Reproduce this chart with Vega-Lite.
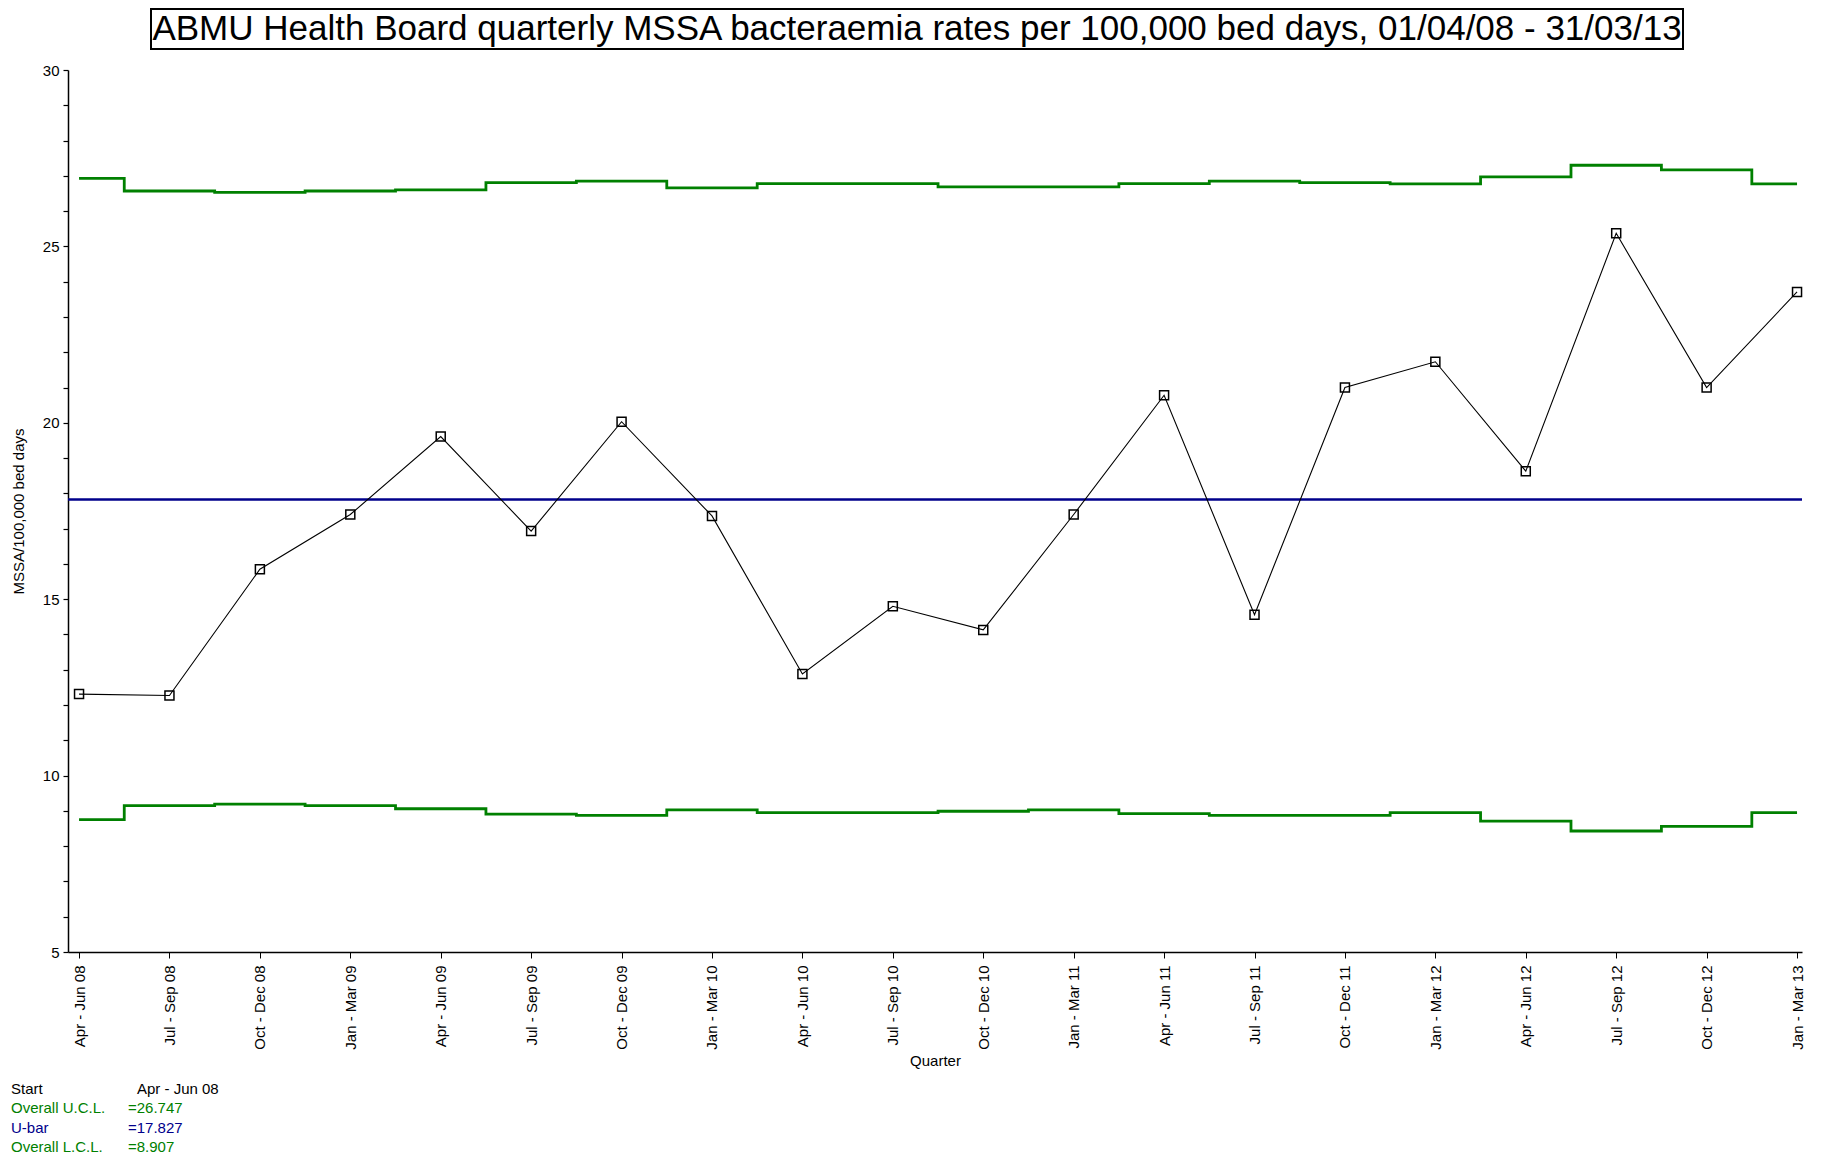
{
  "$schema": "https://vega.github.io/schema/vega-lite/v6.json",
  "background": "white",
  "padding": {"left": 11, "top": 8, "right": 10, "bottom": 5},
  "config": {
    "font": "Liberation Sans",
    "view": {"stroke": null},
    "axis": {"domainColor": "black", "tickColor": "black", "labelColor": "black", "titleColor": "black", "grid": false, "labelFont": "Liberation Sans", "titleFont": "Liberation Sans", "titleFontWeight": "normal", "labelOverlap": false},
    "axisY": {"labelOverlap": false},
    "text": {"font": "Liberation Sans"}
  },
  "datasets": {
    "q": [
      {"quarter": "Apr - Jun 08", "rate": 12.31, "ucl": 26.93, "lcl": 8.75},
      {"quarter": "Jul - Sep 08", "rate": 12.27, "ucl": 26.57, "lcl": 9.15},
      {"quarter": "Oct - Dec 08", "rate": 15.85, "ucl": 26.53, "lcl": 9.19},
      {"quarter": "Jan - Mar 09", "rate": 17.40, "ucl": 26.57, "lcl": 9.15},
      {"quarter": "Apr - Jun 09", "rate": 19.61, "ucl": 26.60, "lcl": 9.06},
      {"quarter": "Jul - Sep 09", "rate": 16.93, "ucl": 26.81, "lcl": 8.91},
      {"quarter": "Oct - Dec 09", "rate": 20.03, "ucl": 26.85, "lcl": 8.87},
      {"quarter": "Jan - Mar 10", "rate": 17.36, "ucl": 26.66, "lcl": 9.03},
      {"quarter": "Apr - Jun 10", "rate": 12.88, "ucl": 26.78, "lcl": 8.95},
      {"quarter": "Jul - Sep 10", "rate": 14.80, "ucl": 26.78, "lcl": 8.95},
      {"quarter": "Oct - Dec 10", "rate": 14.13, "ucl": 26.69, "lcl": 8.99},
      {"quarter": "Jan - Mar 11", "rate": 17.40, "ucl": 26.69, "lcl": 9.03},
      {"quarter": "Apr - Jun 11", "rate": 20.78, "ucl": 26.78, "lcl": 8.92},
      {"quarter": "Jul - Sep 11", "rate": 14.56, "ucl": 26.85, "lcl": 8.87},
      {"quarter": "Oct - Dec 11", "rate": 21.00, "ucl": 26.81, "lcl": 8.87},
      {"quarter": "Jan - Mar 12", "rate": 21.73, "ucl": 26.77, "lcl": 8.95},
      {"quarter": "Apr - Jun 12", "rate": 18.63, "ucl": 26.97, "lcl": 8.71},
      {"quarter": "Jul - Sep 12", "rate": 25.37, "ucl": 27.30, "lcl": 8.43},
      {"quarter": "Oct - Dec 12", "rate": 21.00, "ucl": 27.17, "lcl": 8.56},
      {"quarter": "Jan - Mar 13", "rate": 23.71, "ucl": 26.77, "lcl": 8.95}
    ]
  },
  "spacing": 13,
  "vconcat": [
    {
      "spacing": 0,
      "hconcat": [
        {
          "width": 82,
          "height": 40,
          "data": {"values": [{"t": ""}]},
          "mark": {"type": "text"},
          "encoding": {"text": {"field": "t"}}
        },
        {
          "width": 1532,
          "height": 40,
          "view": {"stroke": "black", "strokeWidth": 2},
          "data": {"values": [{"title": "ABMU Health Board quarterly MSSA bacteraemia rates per 100,000 bed days, 01/04/08 - 31/03/13"}]},
          "mark": {"type": "text", "fontSize": 35, "baseline": "middle", "align": "center", "color": "black"},
          "encoding": {"text": {"field": "title"}}
        }
      ]
    },
    {
      "width": 1734,
      "height": 882,
      "layer": [
        {
          "data": {"name": "q"},
          "mark": {"type": "line", "interpolate": "step", "color": "#008000", "strokeWidth": 2.8},
          "encoding": {
            "x": {"field": "quarter", "type": "ordinal", "sort": null, "scale": {"type": "point", "padding": 0.0885, "align": 0.69}, "axis": {"title": "Quarter", "titleFontSize": 15, "titlePadding": 4, "labelAngle": 270, "labelFontSize": 15, "labelPadding": 7, "tickSize": 6, "domainWidth": 1.5, "labelOverlap": false, "labelBound": false}},
            "y": {"field": "ucl", "type": "quantitative", "scale": {"domain": [5, 30], "nice": false, "zero": false}, "axis": {"title": "MSSA/100,000 bed days", "titleFontSize": 15, "titlePadding": 16, "values": [5,6,7,8,9,10,11,12,13,14,15,16,17,18,19,20,21,22,23,24,25,26,27,28,29,30], "labelExpr": "datum.value % 5 === 0 ? datum.label : ''", "labelOverlap": false, "labelBound": false, "labelFontSize": 15, "labelPadding": 4, "tickSize": 5, "tickWidth": 1.2, "domainWidth": 1.5}}
          }
        },
        {
          "data": {"name": "q"},
          "mark": {"type": "line", "interpolate": "step", "color": "#008000", "strokeWidth": 2.8},
          "encoding": {
            "x": {"field": "quarter", "type": "ordinal", "sort": null},
            "y": {"field": "lcl", "type": "quantitative", "axis": {"title": "MSSA/100,000 bed days", "titleFontSize": 15, "titlePadding": 16, "values": [5,6,7,8,9,10,11,12,13,14,15,16,17,18,19,20,21,22,23,24,25,26,27,28,29,30], "labelExpr": "datum.value % 5 === 0 ? datum.label : ''", "labelOverlap": false, "labelBound": false, "labelFontSize": 15, "labelPadding": 4, "tickSize": 5, "tickWidth": 1.2, "domainWidth": 1.5}}
          }
        },
        {
          "data": {"values": [{"ubar": 17.827}]},
          "mark": {"type": "rule", "color": "#00008B", "strokeWidth": 2.6},
          "encoding": {
            "y": {"field": "ubar", "type": "quantitative", "axis": {"title": "MSSA/100,000 bed days", "titleFontSize": 15, "titlePadding": 16, "values": [5,6,7,8,9,10,11,12,13,14,15,16,17,18,19,20,21,22,23,24,25,26,27,28,29,30], "labelExpr": "datum.value % 5 === 0 ? datum.label : ''", "labelOverlap": false, "labelBound": false, "labelFontSize": 15, "labelPadding": 4, "tickSize": 5, "tickWidth": 1.2, "domainWidth": 1.5}}
          }
        },
        {
          "data": {"name": "q"},
          "mark": {"type": "line", "color": "black", "strokeWidth": 1.1},
          "encoding": {
            "x": {"field": "quarter", "type": "ordinal", "sort": null},
            "y": {"field": "rate", "type": "quantitative", "axis": {"title": "MSSA/100,000 bed days", "titleFontSize": 15, "titlePadding": 16, "values": [5,6,7,8,9,10,11,12,13,14,15,16,17,18,19,20,21,22,23,24,25,26,27,28,29,30], "labelExpr": "datum.value % 5 === 0 ? datum.label : ''", "labelOverlap": false, "labelBound": false, "labelFontSize": 15, "labelPadding": 4, "tickSize": 5, "tickWidth": 1.2, "domainWidth": 1.5}}
          }
        },
        {
          "data": {"name": "q"},
          "mark": {"type": "point", "shape": "square", "filled": false, "size": 81, "stroke": "black", "strokeWidth": 1.5, "opacity": 1},
          "encoding": {
            "x": {"field": "quarter", "type": "ordinal", "sort": null},
            "y": {"field": "rate", "type": "quantitative", "axis": {"title": "MSSA/100,000 bed days", "titleFontSize": 15, "titlePadding": 16, "values": [5,6,7,8,9,10,11,12,13,14,15,16,17,18,19,20,21,22,23,24,25,26,27,28,29,30], "labelExpr": "datum.value % 5 === 0 ? datum.label : ''", "labelOverlap": false, "labelBound": false, "labelFontSize": 15, "labelPadding": 4, "tickSize": 5, "tickWidth": 1.2, "domainWidth": 1.5}}
          }
        }
      ]
    },
    {
      "width": 117,
      "height": 64,
      "data": {"values": [
        {"row": "Start", "col": "name", "text": "Start"},
        {"row": "Start", "col": "value", "text": "Apr - Jun 08"},
        {"row": "UCL", "col": "name", "text": "Overall U.C.L."},
        {"row": "UCL", "col": "value", "text": "=26.747"},
        {"row": "Ubar", "col": "name", "text": "U-bar"},
        {"row": "Ubar", "col": "value", "text": "=17.827"},
        {"row": "LCL", "col": "name", "text": "Overall L.C.L."},
        {"row": "LCL", "col": "value", "text": "=8.907"}
      ]},
      "encoding": {
        "x": {"field": "col", "type": "nominal", "scale": {"type": "point", "padding": 0, "domain": ["name", "value"]}, "axis": null},
        "y": {"field": "row", "type": "nominal", "scale": {"type": "point", "padding": 0.184, "domain": ["Start", "UCL", "Ubar", "LCL"]}, "axis": null},
        "text": {"field": "text"},
        "color": {"field": "row", "type": "nominal", "scale": {"domain": ["Start", "UCL", "Ubar", "LCL"], "range": ["black", "#008000", "#00008B", "#008000"]}, "legend": null}
      },
      "layer": [
        {
          "transform": [{"filter": "datum.row !== 'Start' || datum.col === 'name'"}],
          "mark": {"type": "text", "align": "left", "baseline": "middle", "fontSize": 15, "dx": -57}
        },
        {
          "transform": [{"filter": "datum.row === 'Start' && datum.col === 'value'"}],
          "mark": {"type": "text", "align": "left", "baseline": "middle", "fontSize": 15, "dx": -48}
        }
      ]
    }
  ]
}
